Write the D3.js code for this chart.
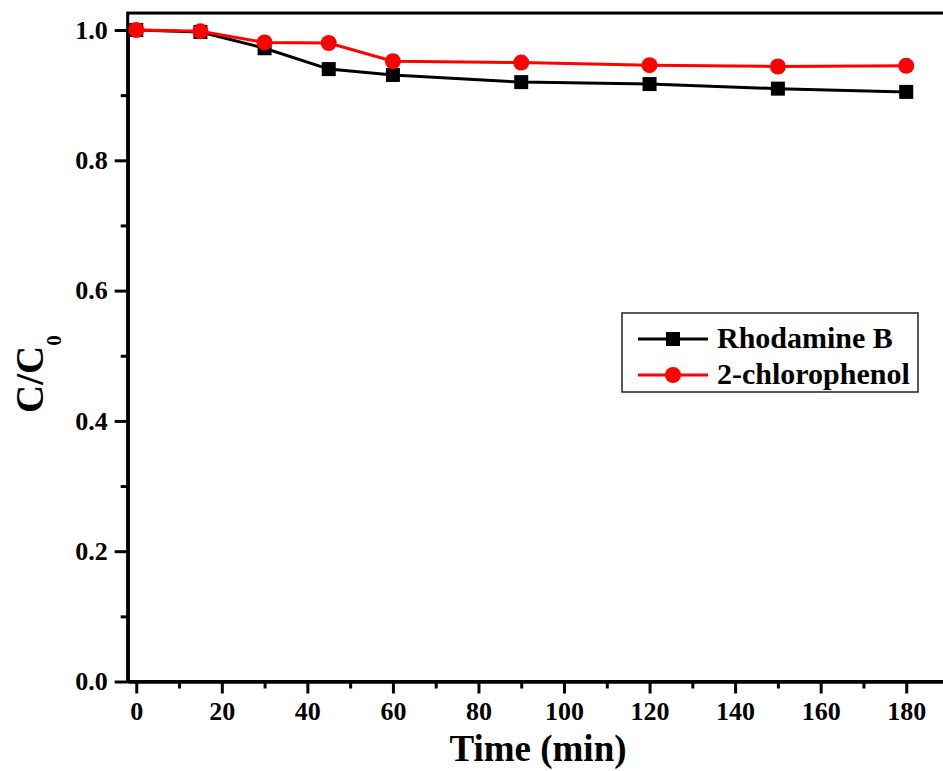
<!DOCTYPE html>
<html>
<head>
<meta charset="utf-8">
<script src="https://cdn.jsdelivr.net/npm/d3@7"></script>
<style>
  body { margin: 0; background: #fff; }
  svg { display: block; font-family: "Liberation Serif", "Times New Roman", serif; font-weight: bold; }
</style>
</head>
<body>
<script>
// sampling times (min)
var times = [0, 15, 30, 45, 60, 90, 120, 150, 180];

// C/C0
var rhodamine = [1.0, 0.997, 0.972, 0.940, 0.931, 0.920, 0.917, 0.910, 0.905];
var chlorophenol = [1.0, 0.998, 0.981, 0.980, 0.952, 0.950, 0.946, 0.944, 0.945];

var seriesNames = ['Rhodamine B', '2-chlorophenol'];
var seriesColors = ['#000000', '#ff0000'];

var xTicks = [0, 20, 40, 60, 80, 100, 120, 140, 160, 180];
var xMinor = [10, 30, 50, 70, 90, 110, 130, 150, 170, 190];
var yTicks = [0.0, 0.2, 0.4, 0.6, 0.8, 1.0];
var yMinor = [0.1, 0.3, 0.5, 0.7, 0.9];

var width = 943, height = 771;

var svg = d3.select('body').append('svg')
  .attr('width', width)
  .attr('height', height);

//scales: plot runs off the right edge like the original
var x = d3.scaleLinear().domain([-2, 190]).range([127.7, 949]);
var y = d3.scaleLinear().domain([0, 1.0]).range([681.5, 30]);
var yTop = y(1.026);

//frame (top + left + bottom)
svg.append('rect')
  .attr('x', x(-2))
  .attr('y', yTop)
  .attr('width', x(190) - x(-2) + 10)
  .attr('height', y(0) - yTop)
  .attr('fill', 'none')
  .attr('stroke', '#000')
  .attr('stroke-width', 3);

//major and minor ticks
function styleAxis(g) {
  g.attr('font-family', null).attr('font-size', null);
  g.select('.domain').attr('stroke-width', 3);
  g.selectAll('.tick line').attr('stroke-width', 3);
  g.selectAll('text').attr('font-size', 26).attr('font-weight', 'bold')
    .attr('font-family', '"Liberation Serif", "Times New Roman", serif');
}

svg.append('g')
  .attr('transform', 'translate(0,' + y(0) + ')')
  .call(d3.axisBottom(x).tickValues(xTicks).tickSize(12).tickSizeOuter(0).tickPadding(8).tickFormat(d3.format('d')))
  .call(styleAxis);

svg.append('g')
  .attr('transform', 'translate(0,' + y(0) + ')')
  .call(d3.axisBottom(x).tickValues(xMinor).tickSize(7).tickSizeOuter(0).tickFormat(''))
  .call(styleAxis);

svg.append('g')
  .attr('transform', 'translate(' + x(-2) + ',0)')
  .call(d3.axisLeft(y).tickValues(yTicks).tickSize(13).tickSizeOuter(0).tickPadding(7).tickFormat(d3.format('.1f')))
  .call(styleAxis);

svg.append('g')
  .attr('transform', 'translate(' + x(-2) + ',0)')
  .call(d3.axisLeft(y).tickValues(yMinor).tickSize(7).tickSizeOuter(0).tickFormat(''))
  .call(styleAxis);

//axis titles
svg.append('text')
  .attr('x', 538)
  .attr('y', 761)
  .attr('text-anchor', 'middle')
  .attr('font-size', 37)
  .text('Time (min)');

var yl = svg.append('text')
  .attr('transform', 'translate(43,413) rotate(-90)')
  .attr('font-size', 39);
yl.append('tspan').text('C/C');
yl.append('tspan').attr('font-size', 21).attr('dy', 18).text('0');

//series
var series = [rhodamine, chlorophenol];
var line = d3.line()
  .x((d, i) => x(times[i]))
  .y(d => y(d));

series.forEach((vals, k) => {
  svg.append('path')
    .datum(vals)
    .attr('d', line)
    .attr('fill', 'none')
    .attr('stroke', seriesColors[k])
    .attr('stroke-width', 3);
});

//markers: squares for Rhodamine B, circles for 2-chlorophenol
svg.append('g').selectAll('rect')
  .data(rhodamine)
  .enter()
  .append('rect')
  .attr('x', (d, i) => x(times[i]) - 7)
  .attr('y', d => y(d) - 7)
  .attr('width', 14)
  .attr('height', 14)
  .attr('fill', seriesColors[0]);

svg.append('g').selectAll('circle')
  .data(chlorophenol)
  .enter()
  .append('circle')
  .attr('cx', (d, i) => x(times[i]))
  .attr('cy', d => y(d))
  .attr('r', 8)
  .attr('fill', seriesColors[1]);

//legend
var legend = svg.append('g').attr('transform', 'translate(622,313)');
legend.append('rect')
  .attr('width', 296)
  .attr('height', 79)
  .attr('fill', '#fff')
  .attr('stroke', '#222')
  .attr('stroke-width', 1.5);

seriesNames.forEach((name, k) => {
  var ry = 26 + k * 36;
  legend.append('line')
    .attr('x1', 16).attr('x2', 86)
    .attr('y1', ry).attr('y2', ry)
    .attr('stroke', seriesColors[k])
    .attr('stroke-width', 3);
  if (k === 0) {
    legend.append('rect')
      .attr('x', 51 - 7).attr('y', ry - 7)
      .attr('width', 14).attr('height', 14)
      .attr('fill', seriesColors[k]);
  } else {
    legend.append('circle')
      .attr('cx', 51).attr('cy', ry)
      .attr('r', 8)
      .attr('fill', seriesColors[k]);
  }
  legend.append('text')
    .attr('x', 95)
    .attr('y', ry + 9)
    .attr('font-size', 30)
    .text(name);
});
</script>
</body>
</html>
